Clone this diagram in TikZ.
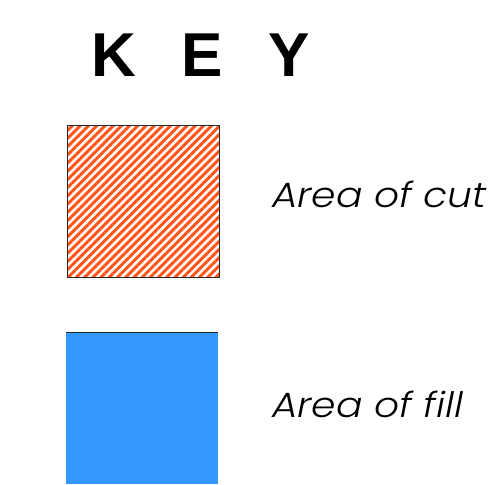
\documentclass[tikz,border=0pt]{standalone}
\usepackage{fontspec}
\setmainfont{Liberation Sans}
\newfontfamily\labelfont{Poppins Light Italic}[FakeStretch=1.12]
\usepackage{xcolor}
\usepackage{tikz}
\usetikzlibrary{positioning,patterns.meta}
\definecolor{cutorange}{RGB}{255, 85, 25}
\definecolor{fillblue}{RGB}{51, 153, 255}
\definecolor{edgegrey}{RGB}{40, 40, 40}

\begin{document}
\begin{tikzpicture}[x=1pt, y=-1pt,
    keybox/.style={rectangle, inner sep=0pt, minimum width=152pt, minimum height=152pt, anchor=north west},
    keylabel/.style={anchor=base west, inner sep=0pt, font=\labelfont\fontsize{35}{40}\selectfont}]
    \useasboundingbox (0,0) rectangle (488,485);
    % Title
    \node [anchor=base west, inner sep=0pt, font=\bfseries\fontsize{62}{70}\selectfont] (title) at (91,76) {K\hspace{46pt}E\hspace{45pt}Y};
    % Key boxes
    \node [keybox, draw=edgegrey, line width=0.6pt, fill=white, pattern={Lines[angle=45, distance=5.8pt, line width=3pt]}, pattern color=cutorange] (cutbox) at (66,124) {};
    \node [keybox, fill=fillblue] (fillbox) at (66,332) {};
    \draw [edgegrey, line width=0.8pt] (fillbox.north west) -- (fillbox.north east);
    % Labels
    \node [keylabel] (cutlabel) at (272,207) {Area of cut};
    \node [keylabel] (filllabel) at (272,417) {Area of fill};
\end{tikzpicture}
\end{document}
